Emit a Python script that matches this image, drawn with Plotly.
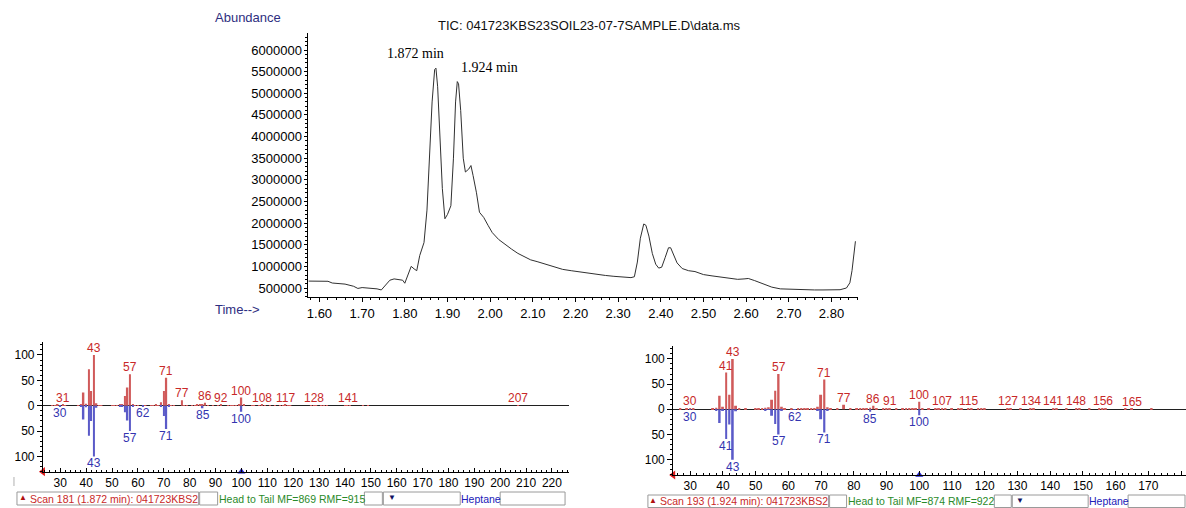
import plotly.graph_objects as go

W, H = 1186, 508

# ---------------- data ----------------
tic_time = [1.574, 1.600, 1.620, 1.630, 1.650, 1.660, 1.680, 1.690, 1.700, 1.710, 1.720, 1.735, 1.745,
            1.755, 1.765, 1.775, 1.785, 1.795, 1.800, 1.808, 1.815, 1.822, 1.828, 1.835, 1.845, 1.852,
            1.858, 1.864, 1.870, 1.873, 1.877, 1.882, 1.888, 1.894, 1.900, 1.908, 1.914, 1.919, 1.923,
            1.926, 1.931, 1.937, 1.942, 1.950, 1.955, 1.960, 1.968, 1.975, 1.985, 1.995, 2.005, 2.020,
            2.035, 2.050, 2.065, 2.080, 2.095, 2.110, 2.130, 2.150, 2.170, 2.190, 2.210, 2.230, 2.250,
            2.270, 2.290, 2.310, 2.330, 2.338, 2.345, 2.352, 2.360, 2.365, 2.372, 2.380, 2.388, 2.395,
            2.402, 2.410, 2.418, 2.423, 2.430, 2.438, 2.450, 2.465, 2.480, 2.500, 2.520, 2.540, 2.560,
            2.580, 2.595, 2.605, 2.620, 2.640, 2.660, 2.680, 2.700, 2.720, 2.740, 2.760, 2.780, 2.800,
            2.820, 2.835, 2.843, 2.848, 2.852, 2.856]
tic_abund = [660000, 660000, 655000, 615000, 600000, 590000, 540000, 490000, 510000, 505000, 495000,
             480000, 455000, 560000, 680000, 710000, 700000, 680000, 610000, 820000, 1000000, 940000,
             900000, 1250000, 1550000, 2300000, 3550000, 4800000, 5550000, 5580000, 5150000, 4000000,
             2800000, 2100000, 2200000, 2400000, 3500000, 4800000, 5270000, 5220000, 4600000, 3500000,
             3180000, 3250000, 3330000, 3100000, 2700000, 2250000, 2130000, 1950000, 1780000, 1620000,
             1500000, 1400000, 1300000, 1230000, 1150000, 1110000, 1050000, 990000, 930000, 900000,
             870000, 840000, 820000, 790000, 770000, 750000, 740000, 760000, 1100000, 1650000, 1980000,
             1950000, 1700000, 1300000, 1050000, 960000, 980000, 1200000, 1430000, 1430000, 1250000,
             1080000, 950000, 900000, 880000, 810000, 780000, 750000, 720000, 700000, 710000, 720000,
             670000, 590000, 520000, 480000, 470000, 465000, 460000, 455000, 455000, 455000, 460000,
             500000, 620000, 900000, 1300000, 1580000]

peak_time = [1.872, 1.924]
peak_text = ["1.872 min", "1.924 min"]
tic_title = "TIC: 041723KBS23SOIL23-07-7SAMPLE.D\\data.ms"

# scan 181 (sample, upper, red)
scan1_mz = [27, 28, 29, 31, 32, 37, 38, 39, 40, 41, 42, 43, 44, 45, 46, 50, 51, 52, 53, 54, 55, 56, 57,
            58, 59, 60, 63, 65, 66, 67, 68, 69, 70, 71, 72, 73, 74, 77, 78, 79, 81, 82, 83, 84, 85, 86,
            87, 89, 91, 92, 95, 96, 97, 98, 99, 100, 101, 104, 105, 107, 108, 109, 111, 113, 115, 116,
            117, 118, 119, 127, 128, 129, 131, 132, 133, 140, 141, 142, 147, 149, 207]
scan1_int = [1, 1, 2, 2, 1, 1, 3, 26, 4, 72, 29, 100, 5, 1, 1, 1, 1, 1, 2, 2, 19, 36, 62,
             3, 1, 1, 1, 1, 1, 2, 1, 7, 29, 55, 3, 1, 1, 11, 1, 1, 1, 1, 2, 2, 2, 6,
             1, 1, 1, 2, 1, 1, 1, 1, 2, 16, 2, 1, 1, 1, 2, 1, 1, 1, 1, 1,
             2, 1, 1, 1, 1, 1, 1, 1, 1, 1, 1, 1, 1, 1, 1]
scan1_labels = [31, 43, 57, 71, 77, 86, 92, 100, 108, 117, 128, 141, 207]

# scan 193 (sample, upper, red)
scan2_mz = [27, 29, 30, 31, 37, 38, 39, 40, 41, 42, 43, 44, 45, 47, 50, 51, 52, 53, 54, 55, 56, 57, 58,
            59, 61, 63, 64, 65, 66, 67, 68, 69, 70, 71, 72, 73, 75, 77, 79, 81, 82, 83, 84, 85, 86, 87,
            89, 90, 91, 93, 95, 96, 97, 98, 99, 100, 101, 103, 105, 106, 107, 108, 110, 112, 113, 115,
            116, 118, 119, 120, 127, 128, 131, 134, 135, 141, 142, 145, 148, 149, 152, 155, 156, 157,
            163, 165, 171]
scan2_int = [1, 1, 2, 1, 1, 3, 27, 5, 73, 29, 100, 7, 2, 1, 1, 2, 2, 3, 4, 19, 37, 70, 5,
             1, 1, 1, 1, 1, 1, 2, 2, 5, 29, 59, 4, 1, 1, 9, 1, 1, 1, 2, 2, 3, 7, 1,
             1, 1, 2, 1, 1, 1, 1, 1, 2, 15, 2, 1, 1, 1, 2, 1, 1, 1, 1, 2,
             1, 1, 1, 1, 2, 1, 1, 2, 1, 2, 1, 1, 2, 1, 1, 1, 2, 1,
             1, 1, 1]
scan2_labels = [30, 41, 43, 57, 71, 77, 86, 91, 100, 107, 115, 127, 134, 141, 148, 156, 165]

# library spectrum: Heptane (lower, blue, drawn downward)
lib_mz = [30, 38, 39, 40, 41, 42, 43, 44, 53, 54, 55, 56, 57, 58, 62, 69, 70, 71, 72, 85, 100]
lib_int = [1, 2, 27, 3, 59, 30, 100, 4, 2, 1, 13, 29, 50, 2, 1, 2, 20, 46, 2, 5, 12]
lib1_labels = [30, 43, 57, 62, 71, 85, 100]
lib2_labels = [30, 41, 43, 57, 62, 71, 85, 100]
lib_marker_mz = 100

tic_xticks = [1.60, 1.70, 1.80, 1.90, 2.00, 2.10, 2.20, 2.30, 2.40, 2.50, 2.60, 2.70, 2.80]
tic_yticks = [500000, 1000000, 1500000, 2000000, 2500000, 3000000, 3500000, 4000000, 4500000,
              5000000, 5500000, 6000000]
spec_yticks = [-100, -50, 0, 50, 100]

scan1_info = "Scan 181 (1.872 min): 041723KBS2"
scan1_match = "Head to Tail MF=869 RMF=915"
scan2_info = "Scan 193 (1.924 min): 041723KBS2"
scan2_match = "Head to Tail MF=874 RMF=922"
lib_name = "Heptane"

# ---------------- styles ----------------
SANS = "Liberation Sans, Arial, sans-serif"
SERIF = "Liberation Serif, Times New Roman, serif"
NAVY = "#2e2e80"
RED_BAR = "#d05a5a"
RED_TXT = "#c82828"
BLUE_BAR = "#5a5ac8"
BLUE_TXT = "#3434b0"
GREEN_TXT = "#2a8a2a"
SPEC_FS = 12
STAT_FS = 10.5
TIC_FS = 13


def px(x):
    return x / W


def py(y):
    return 1 - y / H


fig = go.Figure()

# TIC
fig.add_trace(go.Scatter(x=tic_time, y=tic_abund, mode="lines", xaxis="x", yaxis="y",
                         line=dict(color="#303030", width=1), hoverinfo="skip"))

# spectra
for ax, ya, mz, vals in (("x2", "y2", scan1_mz, scan1_int), ("x3", "y3", scan2_mz, scan2_int)):
    fig.add_trace(go.Bar(x=mz, y=vals, xaxis=ax, yaxis=ya, width=0.6,
                         marker=dict(color=RED_BAR, line=dict(width=0))))
    fig.add_trace(go.Bar(x=lib_mz, y=[-v for v in lib_int], xaxis=ax, yaxis=ya, width=0.6,
                         marker=dict(color=BLUE_BAR, line=dict(width=0))))

ranges = {
    "x": [1.5743, 2.861], "y": [292000, 6392800],
    "x2": [23.3, 226.6], "y2": [-130, 125.6],
    "x3": [24.8, 181.5], "y3": [-130.4, 125.6],
}

# axis markers on spectra x axes
for ax, ya in (("x2", "y2"), ("x3", "y3")):
    fig.add_trace(go.Scatter(x=[lib_marker_mz], y=[ranges[ya][0]], xaxis=ax, yaxis=ya, mode="markers",
                             marker=dict(symbol="triangle-up", size=7, color="#2020d0"),
                             cliponaxis=False, hoverinfo="skip"))
    fig.add_trace(go.Scatter(x=[ranges[ax][0]], y=[ranges[ya][0]], xaxis=ax, yaxis=ya, mode="markers",
                             marker=dict(symbol="triangle-left", size=8, color="#e02020"),
                             cliponaxis=False, hoverinfo="skip"))

annotations = []
shapes = []


def paper_text(txt, x, y, size, color, xanchor="center", family=SANS):
    annotations.append(dict(text=txt, xref="paper", yref="paper", x=px(x), y=py(y),
                            xanchor=xanchor, yanchor="middle", showarrow=False,
                            font=dict(family=family, size=size, color=color)))


# TIC texts
paper_text("Abundance", 246, 17, 13, NAVY)
paper_text(tic_title, 588, 25, 13, "#101010")
paper_text("Time-->", 236, 309, 13, NAVY)

peak_xshift = [-20, 32]
peak_yshift = [5, 5]
for t, txt, dx, dy in zip(peak_time, peak_text, peak_xshift, peak_yshift):
    yv = max(v for tt, v in zip(tic_time, tic_abund) if abs(tt - t) < 0.006)
    annotations.append(dict(text=txt, x=t, y=yv, xref="x", yref="y", xanchor="center",
                            yanchor="bottom", showarrow=False, xshift=dx, yshift=dy,
                            font=dict(family=SERIF, size=14, color="black")))


# spectra labels
def add_labels(mz, vals, labels, ax, ya, color, up):
    lk = dict(zip(mz, vals))
    for m in labels:
        v = lk.get(m, 0)
        annotations.append(dict(text=str(m), x=m, y=v if up else -v, xref=ax, yref=ya,
                                xanchor="center", yanchor="bottom" if up else "top",
                                yshift=-2 if up else 2, showarrow=False,
                                font=dict(family=SANS, size=SPEC_FS, color=color)))


add_labels(scan1_mz, scan1_int, scan1_labels, "x2", "y2", RED_TXT, True)
add_labels(lib_mz, lib_int, lib1_labels, "x2", "y2", BLUE_TXT, False)
add_labels(scan2_mz, scan2_int, scan2_labels, "x3", "y3", RED_TXT, True)
add_labels(lib_mz, lib_int, lib2_labels, "x3", "y3", BLUE_TXT, False)


# status bars
def status_bar(y0, y1, boxes, texts, tri_x, drop_x):
    for (a, b) in boxes:
        shapes.append(dict(type="rect", xref="paper", yref="paper", x0=px(a), x1=px(b),
                           y0=py(y1), y1=py(y0), line=dict(color="#9a9a9a", width=1)))
    yc = (y0 + y1) / 2
    for (x, txt, col) in texts:
        paper_text(txt, x, yc, STAT_FS, col, xanchor="left")
    paper_text("▲", tri_x, yc - 1, 8, "#b01010")
    paper_text("▼", drop_x, yc - 1, 8, "#101060")


status_bar(492, 505,
           [(15, 197), (198, 216), (363, 381), (382, 459), (499, 564)],
           [(26, scan1_info, RED_TXT), (215, scan1_match, GREEN_TXT), (458, lib_name, "#2020b8")],
           21, 391)
status_bar(495, 507.5,
           [(647, 828), (829, 846), (994, 1011), (1012, 1088), (1128, 1185)],
           [(657, scan2_info, RED_TXT), (845, scan2_match, GREEN_TXT), (1087, lib_name, "#2020b8")],
           652, 1020)

# small bracket left of first spectrum
shapes.append(dict(type="line", xref="paper", yref="paper", x0=px(12), x1=px(12),
                   y0=py(486), y1=py(477), line=dict(color="#b0b0b0", width=1)))

axis_common = dict(showline=True, linecolor="black", linewidth=1, showgrid=False,
                   tickcolor="black", tickwidth=1)


def spec_x(dom, rng, anchor):
    return dict(domain=dom, range=rng, anchor=anchor, zeroline=False,
                tick0=0, dtick=10, ticks="inside", ticklen=4,
                minor=dict(dtick=2, tick0=0, ticks="inside", ticklen=2, tickcolor="black"),
                tickfont=dict(family=SANS, size=SPEC_FS, color="black"), **axis_common)


def spec_y(dom, rng, anchor):
    return dict(domain=dom, range=rng, anchor=anchor,
                zeroline=True, zerolinecolor="#202020", zerolinewidth=1,
                tickmode="array", tickvals=spec_yticks, ticktext=[str(abs(v)) for v in spec_yticks],
                ticks="outside", ticklen=5,
                minor=dict(dtick=10, tick0=0, ticks="outside", ticklen=2, tickcolor="black"),
                tickfont=dict(family=SANS, size=SPEC_FS, color="black"), **axis_common)


fig.update_layout(
    width=W, height=H, margin=dict(l=0, r=0, t=0, b=0),
    paper_bgcolor="white", plot_bgcolor="white", showlegend=False, barmode="overlay",
    xaxis=dict(domain=[px(307), px(857)], range=ranges["x"], anchor="y", zeroline=False,
               tickmode="array", tickvals=tic_xticks, ticktext=["%.2f" % v for v in tic_xticks],
               ticks="outside", ticklen=4,
               minor=dict(dtick=0.02, tick0=1.6, ticks="outside", ticklen=2, tickcolor="black"),
               tickfont=dict(family=SANS, size=TIC_FS, color="black"), **axis_common),
    yaxis=dict(domain=[py(297), py(33)], range=ranges["y"], anchor="x", zeroline=False,
               tickmode="array", tickvals=tic_yticks, ticktext=[str(v) for v in tic_yticks],
               ticks="outside", ticklen=3,
               minor=dict(dtick=100000, tick0=0, ticks="outside", ticklen=2, tickcolor="black"),
               tickfont=dict(family=SANS, size=TIC_FS, color="black"), **axis_common),
    xaxis2=spec_x([px(41), px(568)], ranges["x2"], "y2"),
    yaxis2=spec_y([py(471.7), py(342)], ranges["y2"], "x2"),
    xaxis3=spec_x([px(672.3), 1.0], ranges["x3"], "y3"),
    yaxis3=spec_y([py(475), py(346)], ranges["y3"], "x3"),
    annotations=annotations, shapes=shapes,
)

fig.write_html("out.html", config={"displayModeBar": False},
               post_script="document.body.style.margin='0px';document.body.style.overflow='hidden';")
